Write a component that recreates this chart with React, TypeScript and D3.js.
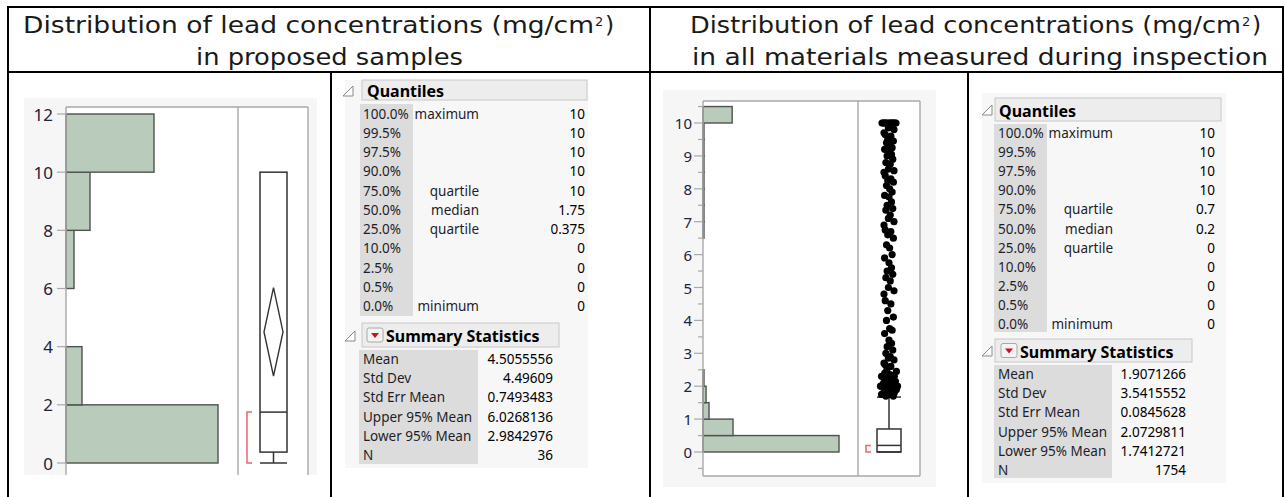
import React from "react";
import * as d3 from "d3";

// ---------------- DATA ----------------
const quantileLevels = ["100.0%", "99.5%", "97.5%", "90.0%", "75.0%", "50.0%", "25.0%", "10.0%", "2.5%", "0.5%", "0.0%"];
const quantileNames = ["maximum", "", "", "", "quartile", "median", "quartile", "", "", "", "minimum"];
const summaryNames = ["Mean", "Std Dev", "Std Err Mean", "Upper 95% Mean", "Lower 95% Mean", "N"];

// Proposed samples (left)
const proposedBinEdges = [0, 2, 4, 6, 8, 10, 12];
const proposedCounts = [19, 2, 0, 1, 3, 11];
const proposedTicks = [0, 2, 4, 6, 8, 10, 12];
const proposedQuantiles = ["10", "10", "10", "10", "10", "1.75", "0.375", "0", "0", "0", "0"];
const proposedSummary = ["4.5055556", "4.49609", "0.7493483", "6.0268136", "2.9842976", "36"];
const proposedBox = [0, 0.375, 1.75, 10, 10]; // lower whisker, q1, median, q3, upper whisker
const proposedMeanCI = [2.9842976, 4.5055556, 6.0268136];
const proposedShortestHalf = [0, 1.75];

// All materials (right)
const allBinEdges = [0, 0.5, 1, 1.5, 2, 2.5, 3, 3.5, 4, 4.5, 5, 5.5, 6, 6.5, 7, 7.5, 8, 8.5, 9, 9.5, 10, 10.5];
const allCounts = [1110, 245, 49, 25, 8, 3, 3, 3, 2, 3, 3, 3, 3, 8, 8, 8, 8, 8, 8, 8, 238];
const allTicks = [0, 1, 2, 3, 4, 5, 6, 7, 8, 9, 10];
const allMinorTicks = [-0.5, 0.5, 1.5, 2.5, 3.5, 4.5, 5.5, 6.5, 7.5, 8.5, 9.5, 10.5];
const allQuantiles = ["10", "10", "10", "10", "0.7", "0.2", "0", "0", "0", "0", "0"];
const allSummary = ["1.9071266", "3.5415552", "0.0845628", "2.0729811", "1.7412721", "1754"];
const allBox = [0, 0, 0.2, 0.7, 1.67];
const allMeanCI = [1.7412721, 1.9071266, 2.0729811];
const allShortestHalf = [0, 0.2];
const allOutliers = [
  10, 10, 10, 10, 10, 10, 10, 10, 10, 10, 10, 10, 10, 10,
  9.85, 9.8, 9.7, 9.65, 9.6, 9.5, 9.45, 9.4, 9.3, 9.25, 9.2, 9.1, 9.05, 9.0,
  8.9, 8.8, 8.75, 8.6, 8.55, 8.5, 8.4, 8.3, 8.25, 8.2, 8.1, 8.0,
  7.9, 7.8, 7.75, 7.6, 7.5, 7.4, 7.35, 7.2, 7.1, 7.0,
  6.9, 6.75, 6.7, 6.6, 6.5, 6.3, 6.2, 6.0,
  5.9, 5.75, 5.6, 5.5, 5.4, 5.3, 5.2, 5.0,
  4.9, 4.8, 4.6, 4.5, 4.3, 4.1, 4.0,
  3.75, 3.7, 3.6, 3.4, 3.3, 3.2, 3.1, 3.0,
  2.9, 2.85, 2.8, 2.7, 2.65, 2.6, 2.5, 2.45, 2.4, 2.35, 2.3, 2.3, 2.25, 2.2, 2.2, 2.15,
  2.1, 2.1, 2.05, 2.0, 2.0, 2.0, 1.95, 1.9, 1.9, 1.85, 1.8, 1.8, 1.75, 1.75, 1.7, 1.7,
];

// ---------------- STYLE ----------------
const jitterPattern = [-6, 3, -2, 7, -4, 1, 5, -7, 0, 4, -3, 6, -5, 2, -1, 8, -8];
const fontUI = "'Noto Sans', 'DejaVu Sans', sans-serif";
const fontTitle = "'DejaVu Sans', sans-serif";
const barFill = "#b9cbbb";
const barStroke = "#4f524f";
const frameColor = "#a9a9a9";
const tickText = "#22223a";

type Rect = [number, number, number, number];

type DistProps = {
  bg: Rect;
  axisX: number;
  top: number;
  bottom: number;
  divider: number;
  right: number;
  bottomLine: boolean;
  yDomain: [number, number];
  yRange: [number, number];
  edges: number[];
  counts: number[];
  histWidth: number;
  ticks: number[];
  minorTicks: number[];
  tickLen: number;
  minorLen: number;
  labelGap: number;
  labelFont: number;
  boxCx: number;
  boxHalf: number;
  box: number[];
  meanCI: number[];
  diamondHalf: number;
  bracketX: number;
  shortestHalf: number[];
  outliers?: number[];
};

function Distribution(p: DistProps) {
  const y = d3.scaleLinear().domain(p.yDomain).range(p.yRange);
  const xh = d3.scaleLinear().domain([0, d3.max(p.counts) as number]).range([p.axisX, p.axisX + p.histWidth]);
  const [lw, q1, med, q3, uw] = p.box;
  const [lo, mean, hi] = p.meanCI;
  const cx = p.boxCx;
  const diamond = d3.path();
  diamond.moveTo(cx - p.diamondHalf, y(mean));
  diamond.lineTo(cx, y(hi));
  diamond.lineTo(cx + p.diamondHalf, y(mean));
  diamond.lineTo(cx, y(lo));
  diamond.closePath();
  const br = d3.path();
  br.moveTo(p.bracketX + 5, y(p.shortestHalf[1]));
  br.lineTo(p.bracketX, y(p.shortestHalf[1]));
  br.lineTo(p.bracketX, y(p.shortestHalf[0]));
  br.lineTo(p.bracketX + 5, y(p.shortestHalf[0]));
  const jitterFor = (v: number, i: number) => {
    const j = jitterPattern[i % jitterPattern.length];
    if (v >= 9.99) return (j / 8) * 8;
    if (v < 2.6) return (j / 8) * 8.5;
    return (j / 8) * 5;
  };
  return (
    <g>
      <rect x={p.bg[0]} y={p.bg[1]} width={p.bg[2]} height={p.bg[3]} fill="#f6f6f6" />
      <rect x={p.axisX} y={p.top} width={p.right - p.axisX} height={p.bottom - p.top} fill="#ffffff" />
      {p.edges.slice(0, -1).map((e, i) => {
        const w = xh(p.counts[i]) - p.axisX;
        if (w < 0.5) return null;
        return (
          <rect
            key={i}
            x={p.axisX}
            y={y(p.edges[i + 1])}
            width={w}
            height={y(e) - y(p.edges[i + 1])}
            fill={barFill}
            stroke={barStroke}
            strokeWidth={1.4}
          />
        );
      })}
      {/* frame */}
      <line x1={p.axisX} x2={p.right} y1={p.top} y2={p.top} stroke={frameColor} strokeWidth={1.4} />
      {p.bottomLine && <line x1={p.axisX} x2={p.right} y1={p.bottom} y2={p.bottom} stroke={frameColor} strokeWidth={1.4} />}
      <line x1={p.axisX} x2={p.axisX} y1={p.top} y2={p.bottom} stroke={frameColor} strokeWidth={1.4} />
      <line x1={p.divider} x2={p.divider} y1={p.top} y2={p.bottom} stroke={frameColor} strokeWidth={1.4} />
      <line x1={p.right} x2={p.right} y1={p.top} y2={p.bottom} stroke={frameColor} strokeWidth={1.4} />
      {/* ticks */}
      {p.minorTicks.map((t) => (
        <line key={"m" + t} x1={p.axisX - p.minorLen} x2={p.axisX} y1={y(t)} y2={y(t)} stroke={frameColor} strokeWidth={1.2} />
      ))}
      {p.ticks.map((t) => (
        <g key={"t" + t}>
          <line x1={p.axisX - p.tickLen} x2={p.axisX} y1={y(t)} y2={y(t)} stroke={frameColor} strokeWidth={1.2} />
          <text
            x={p.axisX - p.tickLen - p.labelGap}
            y={y(t)}
            textAnchor="end"
            dominantBaseline="central"
            fontFamily={fontUI}
            fontSize={p.labelFont}
            fill={tickText}
          >
            {t}
          </text>
        </g>
      ))}
      {/* box plot */}
      <rect x={cx - p.boxHalf} y={y(q3)} width={p.boxHalf * 2} height={y(q1) - y(q3)} fill="none" stroke="#333" strokeWidth={1.5} />
      <line x1={cx - p.boxHalf} x2={cx + p.boxHalf} y1={y(med)} y2={y(med)} stroke="#333" strokeWidth={1.5} />
      {q1 > lw && <line x1={cx} x2={cx} y1={y(q1)} y2={y(lw)} stroke="#333" strokeWidth={1.5} />}
      <line x1={cx - p.boxHalf} x2={cx + p.boxHalf} y1={y(lw)} y2={y(lw)} stroke="#333" strokeWidth={1.5} />
      {uw > q3 && (
        <g>
          <line x1={cx} x2={cx} y1={y(q3)} y2={y(uw)} stroke="#333" strokeWidth={1.5} />
          <line x1={cx - p.boxHalf} x2={cx + p.boxHalf} y1={y(uw)} y2={y(uw)} stroke="#333" strokeWidth={1.5} />
        </g>
      )}
      {/* mean diamond */}
      <path d={diamond.toString()} fill="none" stroke="#333" strokeWidth={1.4} />
      <path d={br.toString()} fill="none" stroke="#f2606e" strokeWidth={1.5} />
      {(p.outliers || []).map((v, i) => (
        <circle key={"o" + i} cx={cx + jitterFor(v, i)} cy={y(v)} r={3.6} fill="#000" />
      ))}
    </g>
  );
}

type StatsProps = {
  panel: Rect;
  qHead: Rect;
  qTri: [number, number];
  qTextX: number;
  qRow0: number;
  qGap: number;
  qLabelCol: Rect;
  labelX: number;
  nameRight: number;
  qValueRight: number;
  sHead: Rect;
  sTri: [number, number];
  sIconX: number;
  sTextX: number;
  sRow0: number;
  sGap: number;
  sLabelCol: Rect;
  sValueRight: number;
  quantiles: string[];
  summary: string[];
};

function DisclosureTri({ x, y }: { x: number; y: number }) {
  const path = d3.path();
  path.moveTo(x - 5, y + 5);
  path.lineTo(x + 5, y + 5);
  path.lineTo(x + 5, y - 5);
  path.closePath();
  return <path d={path.toString()} fill="#fff" stroke="#8a8a8a" strokeWidth={1} />;
}

function Stats(p: StatsProps) {
  const rowFont = 13.5;
  const qy = (i: number) => p.qRow0 + i * p.qGap;
  const sy = (i: number) => p.sRow0 + i * p.sGap;
  const iconY = p.sHead[1] + p.sHead[3] / 2;
  const tri = d3.path();
  tri.moveTo(p.sIconX + 4, iconY - 2);
  tri.lineTo(p.sIconX + 12, iconY - 2);
  tri.lineTo(p.sIconX + 8, iconY + 3);
  tri.closePath();
  return (
    <g fontFamily={fontUI}>
      <rect x={p.panel[0]} y={p.panel[1]} width={p.panel[2]} height={p.panel[3]} fill="#f7f7f7" />
      {/* Quantiles header */}
      <rect x={p.qHead[0]} y={p.qHead[1]} width={p.qHead[2]} height={p.qHead[3]} fill="#ededed" stroke="#c8c8c8" strokeWidth={1} />
      <DisclosureTri x={p.qTri[0]} y={p.qTri[1]} />
      <text x={p.qTextX} y={p.qHead[1] + p.qHead[3] / 2 + 1} dominantBaseline="central" fontSize={16} fontWeight="bold" fill="#000">
        Quantiles
      </text>
      <rect x={p.qLabelCol[0]} y={p.qLabelCol[1]} width={p.qLabelCol[2]} height={p.qLabelCol[3]} fill="#dcdcdc" />
      {quantileLevels.map((lv, i) => (
        <g key={lv} fontSize={rowFont} fill="#1e1e2a">
          <text x={p.labelX} y={qy(i)} dominantBaseline="central">{lv}</text>
          {quantileNames[i] && (
            <text x={p.nameRight} y={qy(i)} dominantBaseline="central" textAnchor="end">{quantileNames[i]}</text>
          )}
          <text x={p.qValueRight} y={qy(i)} dominantBaseline="central" textAnchor="end" fill="#000">{p.quantiles[i]}</text>
        </g>
      ))}
      {/* Summary header */}
      <rect x={p.sHead[0]} y={p.sHead[1]} width={p.sHead[2]} height={p.sHead[3]} fill="#ededed" stroke="#c8c8c8" strokeWidth={1} />
      <DisclosureTri x={p.sTri[0]} y={p.sTri[1]} />
      <rect x={p.sIconX} y={iconY - 7} width={16} height={14} rx={2} fill="#f4f4f4" stroke="#a8a8a8" strokeWidth={1} />
      <path d={tri.toString()} fill="#d0101a" />
      <text x={p.sTextX} y={p.sHead[1] + p.sHead[3] / 2 + 1} dominantBaseline="central" fontSize={16} fontWeight="bold" fill="#000">
        Summary Statistics
      </text>
      <rect x={p.sLabelCol[0]} y={p.sLabelCol[1]} width={p.sLabelCol[2]} height={p.sLabelCol[3]} fill="#dcdcdc" />
      {summaryNames.map((nm, i) => (
        <g key={nm} fontSize={rowFont} fill="#1e1e2a">
          <text x={p.labelX} y={sy(i)} dominantBaseline="central">{nm}</text>
          <text x={p.sValueRight} y={sy(i)} dominantBaseline="central" textAnchor="end" fill="#000">{p.summary[i]}</text>
        </g>
      ))}
    </g>
  );
}

function Title({ x0, xSup, base, line2, l2x0, l2x1 }: { x0: number; xSup: number; base: number; line2: string; l2x0: number; l2x1: number }) {
  return (
    <g fontFamily={fontTitle} fill="#1a1a1a">
      <text x={x0} y={base} fontSize={23.5} textLength={xSup - x0} lengthAdjust="spacingAndGlyphs">
        Distribution of lead concentrations (mg/cm
      </text>
      <text x={xSup + 1} y={base - 7} fontSize={13}>2</text>
      <text x={xSup + 11} y={base} fontSize={23.5}>)</text>
      <text x={l2x0} y={base + 32} fontSize={23.5} textLength={l2x1 - l2x0} lengthAdjust="spacingAndGlyphs">
        {line2}
      </text>
    </g>
  );
}

export default function App() {
  return (
    <div style={{ position: "absolute", left: 0, top: 0 }}>
      <svg width={1285} height={497} style={{ display: "block", background: "#fff" }}>
        {/* Titles */}
        <Title x0={23} xSup={594} base={33} line2="in proposed samples" l2x0={196} l2x1={463} />
        <Title x0={690} xSup={1241} base={33} line2="in all materials measured during inspection" l2x0={692} l2x1={1268} />

        <Distribution
          bg={[24, 98, 293, 377]}
          axisX={66}
          top={107}
          bottom={475}
          divider={238}
          right={308}
          bottomLine={false}
          yDomain={[0, 12]}
          yRange={[463, 114]}
          edges={proposedBinEdges}
          counts={proposedCounts}
          histWidth={152}
          ticks={proposedTicks}
          minorTicks={[]}
          tickLen={9}
          minorLen={5}
          labelGap={4}
          labelFont={17}
          boxCx={273.5}
          boxHalf={13.5}
          box={proposedBox}
          meanCI={proposedMeanCI}
          diamondHalf={9.5}
          bracketX={247}
          shortestHalf={proposedShortestHalf}
        />
        <Stats
          panel={[345, 80, 243, 388]}
          qHead={[362, 80, 225, 20]}
          qTri={[348, 91]}
          qTextX={367}
          qRow0={113.5}
          qGap={19.25}
          qLabelCol={[360, 104, 53, 212]}
          labelX={363}
          nameRight={479}
          qValueRight={585}
          sHead={[362, 323, 197, 24]}
          sTri={[350, 336]}
          sIconX={367}
          sTextX={386}
          sRow0={359}
          sGap={19.2}
          sLabelCol={[359, 350, 119, 114]}
          sValueRight={553}
          quantiles={proposedQuantiles}
          summary={proposedSummary}
        />

        <Distribution
          bg={[663, 90, 273, 397]}
          axisX={703}
          top={101}
          bottom={476}
          divider={858}
          right={920}
          bottomLine={true}
          yDomain={[0, 10]}
          yRange={[452, 123]}
          edges={allBinEdges}
          counts={allCounts}
          histWidth={136}
          ticks={allTicks}
          minorTicks={allMinorTicks}
          tickLen={9}
          minorLen={5}
          labelGap={2}
          labelFont={15}
          boxCx={889}
          boxHalf={12}
          box={allBox}
          meanCI={allMeanCI}
          diamondHalf={9}
          bracketX={866}
          shortestHalf={allShortestHalf}
          outliers={allOutliers}
        />
        <Stats
          panel={[982, 93, 244, 390]}
          qHead={[995, 98, 226, 23]}
          qTri={[987, 110]}
          qTextX={999}
          qRow0={133}
          qGap={19.1}
          qLabelCol={[994, 124, 53, 208]}
          labelX={998}
          nameRight={1113}
          qValueRight={1215}
          sHead={[995, 339, 197, 23]}
          sTri={[987, 351]}
          sIconX={1001}
          sTextX={1020}
          sRow0={374}
          sGap={19.2}
          sLabelCol={[994, 365, 118, 113]}
          sValueRight={1186}
          quantiles={allQuantiles}
          summary={allSummary}
        />

        {/* table borders */}
        <g stroke="#000" strokeWidth={2}>
          <line x1={7} x2={1284} y1={7} y2={7} />
          <line x1={7} x2={1284} y1={72} y2={72} />
          <line x1={8} x2={8} y1={6} y2={497} />
          <line x1={650} x2={650} y1={6} y2={497} />
          <line x1={1283} x2={1283} y1={6} y2={497} />
          <line x1={331} x2={331} y1={72} y2={497} />
          <line x1={968} x2={968} y1={72} y2={497} />
        </g>
      </svg>
    </div>
  );
}
